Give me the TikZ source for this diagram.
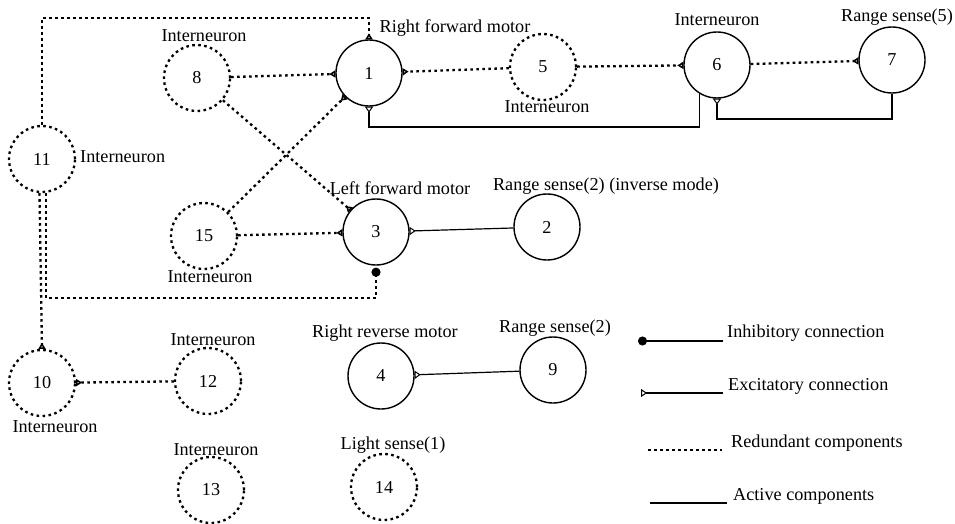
\documentclass[tikz,border=0pt]{standalone}
\usepackage{fontspec}
\setmainfont{Liberation Serif}
\usetikzlibrary{arrows.meta}
\begin{document}
\begin{tikzpicture}[x=1pt,y=-1pt,
  font=\fontsize{18.2}{21}\selectfont,
  dotline/.style={line width=2.3pt, dash pattern=on 2.6pt off 3.4pt},
  solidline/.style={line width=1.2pt},
  active/.style={draw, circle, minimum size=66pt, inner sep=0pt, line width=1.4pt},
  redundant/.style={active, dotline},
  exc/.style={-{Triangle[open,reversed,length=6pt,width=8pt,line width=1pt]}},
  dexc/.style={-{Triangle[open,reversed,length=6pt,width=7pt,line width=1.5pt]}},
  inh/.style={-{Circle[length=9pt]}},
  lbl/.style={inner sep=0pt}
]
\fill[white] (0,0) rectangle (955,524);
\useasboundingbox (0,0) rectangle (955,524);

% neurons
\node[active]    (n1)  at (369,73)  {1};
\node[active]    (n2)  at (547,227) {2};
\node[active]    (n3)  at (376,232) {3};
\node[active]    (n4)  at (381,376) {4};
\node[redundant] (n5)  at (543,67)  {5};
\node[active]    (n6)  at (717,65)  {6};
\node[active]    (n7)  at (892,60)  {7};
\node[redundant] (n8)  at (197,78)  {8};
\node[active]    (n9)  at (553,370) {9};
\node[redundant] (n10) at (42,383)  {10};
\node[redundant] (n11) at (42,159)  {11};
\node[redundant] (n12) at (208,381) {12};
\node[redundant] (n13) at (211,490) {13};
\node[redundant] (n14) at (384,487) {14};
\node[redundant] (n15) at (204,236) {15};

% neuron labels
\node[lbl] (t1)  at (455,28)  {Right forward motor};
\node[lbl] (t8)  at (204,36)  {Interneuron};
\node[lbl,anchor=west] (t11) at (80,157) {Interneuron};
\node[lbl] (t5)  at (547,107) {Interneuron};
\node[lbl] (t6)  at (717,20)  {Interneuron};
\node[lbl] (t7)  at (897,17)  {Range sense(5)};
\node[lbl] (t3)  at (400,188) {Left forward motor};
\node[lbl] (t2)  at (606,186) {Range sense(2) (inverse mode)};
\node[lbl] (t15) at (210,277) {Interneuron};
\node[lbl] (t12) at (213,340) {Interneuron};
\node[lbl] (t10) at (55,427)  {Interneuron};
\node[lbl] (t13) at (216,450) {Interneuron};
\node[lbl] (t4)  at (385,333) {Right reverse motor};
\node[lbl] (t9)  at (555,328) {Range sense(2)};
\node[lbl] (t14) at (393,445) {Light sense(1)};

% redundant connections
\draw[dotline,dexc] (n8) -- (n1);
\draw[dotline,dexc] (n5) -- (n1);
\draw[dotline,dexc] (n5) -- (n6);
\draw[dotline,dexc] (n6) -- (n7);
\draw[dotline,dexc] (n8) -- (n3);
\draw[dotline,dexc] (n15) -- (n1);
\draw[dotline,dexc] (n15) -- (n3);
\draw[dotline,dexc] (n12) -- (n10);
\coordinate (topy) at (0,18);
\draw[dotline,dexc] (n11.north) |- (n1.north |- topy) -- (n1.north);
\draw[dotline,dexc] ([xshift=-2.5pt]n11.south) -- (n10.north);
\coordinate (low3) at (0,298);
\draw[dotline,inh,shorten >=2pt] ([xshift=4pt]n11.south) |- (n3.south |- low3) -- (n3.south);

% active connections
\coordinate (b1) at (0,127);
\coordinate (b6) at (0,119);
\draw[solidline,exc] (n6.-121) |- (n1.south |- b1) -- (n1.south);
\draw[solidline,exc] (n7.south) |- (n6.south |- b6) -- (n6.south);
\draw[solidline,exc] (n2) -- (n3);
\draw[solidline,exc] (n9) -- (n4);

% legend
\coordinate (ia) at (723,341); \coordinate (ib) at (638,341);
\coordinate (ea) at (723,393); \coordinate (eb) at (641,393);
\coordinate (ra) at (648,450); \coordinate (rb) at (722,450);
\coordinate (aa) at (650,503); \coordinate (ab) at (727,503);
\draw[solidline,inh] (ia) -- (ib);
\draw[solidline,exc] (ea) -- (eb);
\draw[dotline] (ra) -- (rb);
\draw[solidline] (aa) -- (ab);
\node[lbl,anchor=base west] (li) at (727,337) {Inhibitory connection};
\node[lbl,anchor=base west] (le) at (728,390) {Excitatory connection};
\node[lbl,anchor=base west] (lr) at (731,447) {Redundant components};
\node[lbl,anchor=base west] (la) at (733,500) {Active components};
\end{tikzpicture}
\end{document}
